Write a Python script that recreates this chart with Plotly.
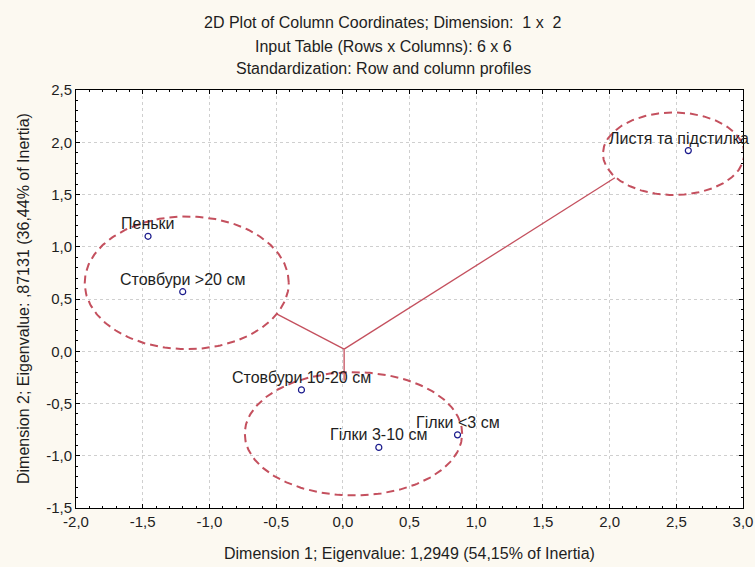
import numpy as np
import plotly.graph_objects as go

# Column coordinates (correspondence analysis, dimensions 1 x 2)
categories = ["Пеньки", "Стовбури >20 см", "Листя та підстилка",
              "Стовбури 10-20 см", "Гілки 3-10 см", "Гілки <3 см"]
dim1 = [-1.46, -1.20, 2.59, -0.31, 0.27, 0.86]
dim2 = [1.10, 0.57, 1.92, -0.37, -0.92, -0.80]
# horizontal nudge (px) so the right-most label stays inside the page
label_nudge = [0, 0, -9, 0, 0, 0]

# Cluster outlines: centre x, centre y, radius x, radius y
cluster_cx = [-1.17, 2.48, 0.08]
cluster_cy = [0.655, 1.89, -0.79]
cluster_rx = [0.765, 0.53, 0.815]
cluster_ry = [0.635, 0.395, 0.59]

# Tree linking the clusters
branch_x = [[0.01, 0.01], [0.01, -0.50], [0.01, 2.04]]
branch_y = [[0.02, -0.28], [0.02, 0.36], [0.02, 1.66]]

x_ticks = [-2.0, -1.5, -1.0, -0.5, 0.0, 0.5, 1.0, 1.5, 2.0, 2.5, 3.0]
y_ticks = [-1.5, -1.0, -0.5, 0.0, 0.5, 1.0, 1.5, 2.0, 2.5]

NBSP = "\u00a0"
title_lines = [f"2D Plot of Column Coordinates; Dimension:{NBSP} 1 x{NBSP} 2",
               "Input Table (Rows x Columns): 6 x 6",
               "Standardization: Row and column profiles"]
x_title = "Dimension 1; Eigenvalue: 1,2949 (54,15% of Inertia)"
y_title = "Dimension 2; Eigenvalue: ,87131 (36,44% of Inertia)"

def comma(v):
    return f"{v:.1f}".replace(".", ",")

RED = "#C4505E"
FONT = "Liberation Sans, Arial, sans-serif"
TXT = "#1E1E1E"

# plot-area geometry in pixels
W, H = 755, 567
ML, MR, MT, MB = 76, 12, 90, 59
PW, PH = W - ML - MR, H - MT - MB

fig = go.Figure()

for bx, by in zip(branch_x, branch_y):
    fig.add_trace(go.Scatter(x=bx, y=by, mode="lines",
                             line=dict(color=RED, width=1.3),
                             hoverinfo="skip", showlegend=False))

t = np.linspace(0, 2 * np.pi, 240)
for cx, cy, rx, ry in zip(cluster_cx, cluster_cy, cluster_rx, cluster_ry):
    fig.add_trace(go.Scatter(x=cx + rx * np.cos(t), y=cy + ry * np.sin(t),
                             mode="lines",
                             line=dict(color=RED, width=2, dash="8px,5px"),
                             hoverinfo="skip", showlegend=False))

fig.add_trace(go.Scatter(
    x=dim1, y=dim2, mode="markers", text=categories,
    marker=dict(symbol="circle-open", size=6, color="#1A1A8C",
                line=dict(width=1.2, color="#1A1A8C")),
    showlegend=False))

# Point labels centred above each marker
for xv, yv, name, dx in zip(dim1, dim2, categories, label_nudge):
    fig.add_annotation(x=xv, y=yv, text=name, showarrow=False,
                       xanchor="center", yanchor="bottom",
                       xshift=dx, yshift=2,
                       font=dict(family=FONT, size=16, color=TXT))

axis_common = dict(
    showline=True, linecolor="#000000", linewidth=1, mirror="ticks",
    ticks="inside", ticklen=4, tickcolor="#000000",
    showgrid=True, gridcolor="#CFCFCF", griddash="dot", gridwidth=1,
    zeroline=False, automargin=False,
    tickfont=dict(family=FONT, size=15, color=TXT),
)

fig.update_xaxes(range=[-2.0, 3.0], tickvals=x_ticks,
                 ticktext=[comma(v) for v in x_ticks],
                 minor=dict(ticks="inside", ticklen=2, tickcolor="#000000",
                            showgrid=False, tick0=-2.0, dtick=0.1),
                 **axis_common)
fig.update_yaxes(range=[-1.5, 2.5], tickvals=y_ticks,
                 ticktext=[comma(v) for v in y_ticks],
                 minor=dict(ticks="inside", ticklen=2, tickcolor="#000000",
                            showgrid=False, tick0=-1.5, dtick=0.1),
                 **axis_common)

# Three-line heading drawn as separate annotations for even spacing
for i, line in enumerate(title_lines):
    fig.add_annotation(text=line, xref="paper", yref="paper",
                       x=(383 - ML) / PW, y=1 + (MT - (23 + 23 * i)) / PH,
                       xanchor="center", yanchor="middle", showarrow=False,
                       font=dict(family=FONT, size=16, color=TXT))

# Axis titles
fig.add_annotation(text=x_title, xref="paper", yref="paper",
                   x=(409 - ML) / PW, y=-(553 - (MT + PH)) / PH,
                   xanchor="center", yanchor="middle", showarrow=False,
                   font=dict(family=FONT, size=16, color=TXT))
fig.add_annotation(text=y_title, xref="paper", yref="paper",
                   x=-(ML - 23) / PW, y=0.5, textangle=-90,
                   xanchor="center", yanchor="middle", showarrow=False,
                   font=dict(family=FONT, size=16, color=TXT))

fig.update_layout(
    width=W, height=H,
    margin=dict(l=ML, r=MR, t=MT, b=MB),
    paper_bgcolor="#FCF9F1",
    plot_bgcolor="#FFFFFF",
)

fig.write_html("out.html")
